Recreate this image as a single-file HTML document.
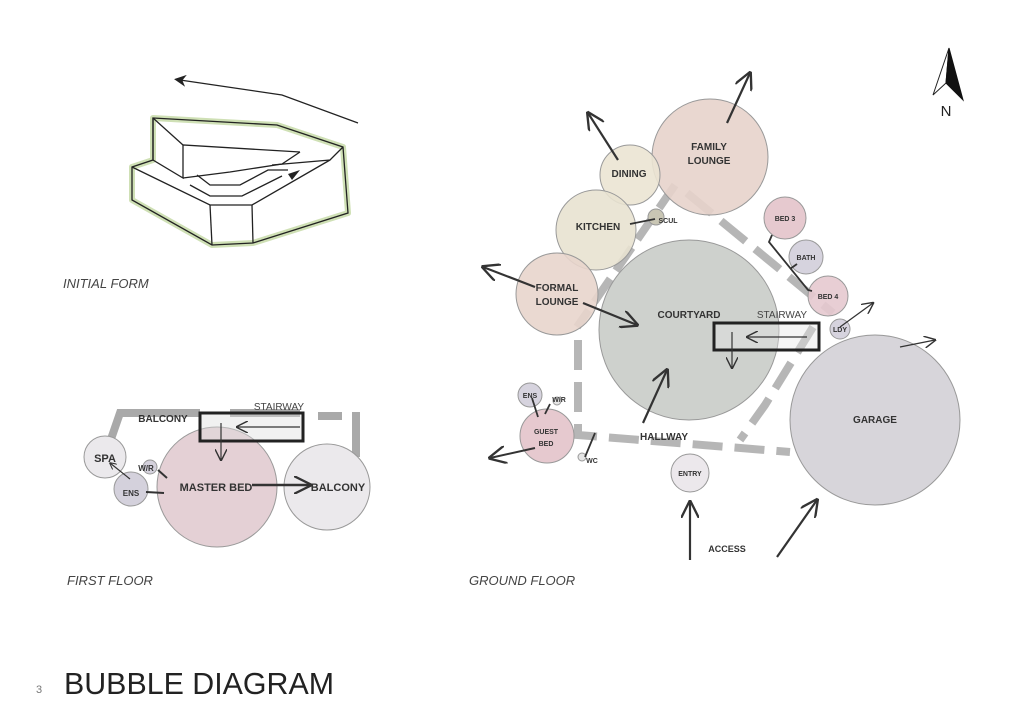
<!DOCTYPE html>
<html><head><meta charset="utf-8"><style>
html,body{margin:0;padding:0;background:#fff}
svg{display:block}
text{font-family:"Liberation Sans",sans-serif}
.b{font-weight:bold;fill:#333;text-anchor:middle}
.it{font-style:italic;fill:#444;font-size:13px}
</style></head><body>
<svg width="1024" height="725" viewBox="0 0 1024 725" xmlns="http://www.w3.org/2000/svg">
<defs>
<marker id="ah" viewBox="0 0 10 10" refX="9" refY="5" markerWidth="7" markerHeight="7" orient="auto-start-reverse" markerUnits="userSpaceOnUse"><path d="M0,0 L10,5 L0,10" fill="none" stroke="#333" stroke-width="1.5"/></marker>
<marker id="ahb" viewBox="0 0 10 10" refX="9" refY="5" markerWidth="18" markerHeight="18" orient="auto" markerUnits="userSpaceOnUse"><path d="M0,0 L10,5 L0,10" fill="none" stroke="#333" stroke-width="1.3"/></marker>
<marker id="ahs" viewBox="0 0 10 10" refX="9" refY="5" markerWidth="12" markerHeight="12" orient="auto" markerUnits="userSpaceOnUse"><path d="M0,0 L10,5 L0,10" fill="none" stroke="#333" stroke-width="1.2"/></marker>
<marker id="tri" viewBox="0 0 10 10" refX="5" refY="5" markerWidth="12" markerHeight="12" orient="auto" markerUnits="userSpaceOnUse"><path d="M0,0 L10,5 L0,10 L3,5z" fill="#222"/></marker>
</defs>

<!-- INITIAL FORM sketch -->
<polyline points="358,123 282,95 180,80" fill="none" stroke="#222" stroke-width="1.2" marker-end="url(#tri)"/>
<polygon points="153,118 277,125 343,147 348,213 253,243 212,245 132,200 132,167 153,160" fill="#fff" stroke="#cfe0b5" stroke-width="6" stroke-linejoin="round"/>
<g fill="none" stroke="#222" stroke-width="1.3">
<polygon points="153,118 277,125 343,147 348,213 253,243 212,245 132,200 132,167 153,160"/>
<polyline points="153,118 153,160 183,178 183,145 300,152"/>
<line x1="153" y1="118" x2="183" y2="145"/>
<polyline points="183,178 230,172 282,164 300,152"/>
<polyline points="343,147 330,160 272,165"/>
<polyline points="132,167 210,205 252,205 330,160"/>
<line x1="210" y1="205" x2="212" y2="245"/>
<line x1="252" y1="205" x2="253" y2="243"/>
<polyline points="197,175 210,185 240,185 268,170 288,170"/>
<polyline points="190,185 210,196 242,196 282,176"/>
</g>
<path d="M288,174 L300,170 L292,180z" fill="#222"/>
<text x="63" y="288" class="it">INITIAL FORM</text>

<!-- FIRST FLOOR -->
<g fill="none" stroke="#a9a9a9" stroke-width="8">
<polyline points="110,442 120,413 200,413"/>
<line x1="230" y1="413" x2="300" y2="413"/>
<line x1="318" y1="416" x2="342" y2="416"/>
<line x1="356" y1="412" x2="356" y2="457"/>
</g>
<circle cx="105" cy="457" r="21" fill="#ebe9ec" stroke="#999" stroke-width="1"/>
<circle cx="217" cy="487" r="60" fill="#e3cdd3" stroke="#999" stroke-width="1" fill-opacity="0.95"/>
<circle cx="327" cy="487" r="43" fill="#ebe9ec" stroke="#999" stroke-width="1"/>
<circle cx="131" cy="489" r="17" fill="#d4d1dc" stroke="#999" stroke-width="1"/>
<circle cx="150" cy="467" r="7" fill="#d4d1dc" stroke="#999" stroke-width="1"/>
<rect x="200" y="413" width="103" height="28" fill="rgba(220,220,220,0.4)" stroke="#222" stroke-width="3"/>
<line x1="300" y1="427" x2="237" y2="427" stroke="#333" stroke-width="1.2" marker-end="url(#ahs)"/>
<line x1="221" y1="423" x2="221" y2="460" stroke="#333" stroke-width="1.2" marker-end="url(#ahs)"/>
<line x1="252" y1="485" x2="310" y2="485" stroke="#333" stroke-width="2.5" marker-end="url(#ahb)"/>
<line x1="130" y1="479" x2="110" y2="463" stroke="#333" stroke-width="1.2" marker-end="url(#ah)"/>
<line x1="158" y1="470" x2="167" y2="478" stroke="#333" stroke-width="2"/>
<line x1="146" y1="492" x2="164" y2="493" stroke="#333" stroke-width="2"/>
<text x="163" y="422" class="b" font-size="10">BALCONY</text>
<text x="279" y="410" font-size="10" fill="#444" text-anchor="middle">STAIRWAY</text>
<text x="105" y="462" class="b" font-size="11">SPA</text>
<text x="146" y="471" class="b" font-size="8">W/R</text>
<text x="131" y="496" class="b" font-size="8">ENS</text>
<text x="216" y="491" class="b" font-size="11">MASTER BED</text>
<text x="338" y="491" class="b" font-size="11">BALCONY</text>
<text x="67" y="585" class="it">FIRST FLOOR</text>

<!-- GROUND FLOOR -->
<g fill="none" stroke="#a9a9a9" stroke-width="8" stroke-opacity="0.85">
<line x1="675" y1="185" x2="577" y2="327" stroke-dasharray="28,10"/>
<polyline points="578,340 578,435 790,452" stroke-dasharray="30,12"/>
<line x1="687" y1="193" x2="833" y2="313" stroke-dasharray="32,12"/>
<polyline points="813,327 765,405 740,440" stroke-dasharray="30,12"/>
</g>
<g stroke="#999" stroke-width="1">
<circle cx="689" cy="330" r="90" fill="#c9ccc8" fill-opacity="0.9"/>
<circle cx="875" cy="420" r="85" fill="#d7d5da"/>
<circle cx="710" cy="157" r="58" fill="#e7d3cb" fill-opacity="0.9"/>
<circle cx="630" cy="175" r="30" fill="#ebe4d3" fill-opacity="0.9"/>
<circle cx="596" cy="230" r="40" fill="#e8e2d0" fill-opacity="0.9"/>
<circle cx="557" cy="294" r="41" fill="#e8d5cc" fill-opacity="0.9"/>
<circle cx="656" cy="217" r="8" fill="#c9c6b4"/>
<circle cx="785" cy="218" r="21" fill="#e6c9cf"/>
<circle cx="806" cy="257" r="17" fill="#d6d3de"/>
<circle cx="828" cy="296" r="20" fill="#e6c9cf" fill-opacity="0.9"/>
<circle cx="840" cy="329" r="10" fill="#d6d3de"/>
<circle cx="530" cy="395" r="12" fill="#d6d3de"/>
<circle cx="557" cy="401" r="4" fill="#e5e5e5"/>
<circle cx="547" cy="436" r="27" fill="#e6c9cf"/>
<circle cx="582" cy="457" r="4" fill="#e5e5e5"/>
<circle cx="690" cy="473" r="19" fill="#ece8ec"/>
</g>
<rect x="714" y="323" width="105" height="27" fill="rgba(230,230,230,0.4)" stroke="#222" stroke-width="3"/>
<g stroke="#333" fill="none">
<line x1="807" y1="337" x2="747" y2="337" stroke-width="1.2" marker-end="url(#ahs)"/>
<line x1="732" y1="332" x2="732" y2="368" stroke-width="1.2" marker-end="url(#ahs)"/>
<line x1="727" y1="123" x2="750" y2="73" stroke-width="2.2" marker-end="url(#ahb)"/>
<line x1="618" y1="160" x2="588" y2="113" stroke-width="2.2" marker-end="url(#ahb)"/>
<line x1="535" y1="287" x2="483" y2="267" stroke-width="2.2" marker-end="url(#ahb)"/>
<line x1="583" y1="303" x2="637" y2="325" stroke-width="2.2" marker-end="url(#ahb)"/>
<line x1="643" y1="423" x2="667" y2="370" stroke-width="2.2" marker-end="url(#ahb)"/>
<line x1="840" y1="327" x2="873" y2="303" stroke-width="1.3" marker-end="url(#ahs)"/>
<line x1="900" y1="347" x2="935" y2="340" stroke-width="1.3" marker-end="url(#ahs)"/>
<line x1="690" y1="560" x2="690" y2="502" stroke-width="2.2" marker-end="url(#ahb)"/>
<line x1="777" y1="557" x2="817" y2="500" stroke-width="2.2" marker-end="url(#ahb)"/>
<line x1="535" y1="448" x2="490" y2="458" stroke-width="2" marker-end="url(#ahb)"/>
<polyline points="772,235 769,242 808,290 812,291" stroke-width="1.8"/>
<line x1="797" y1="264" x2="790" y2="269" stroke-width="1.8"/>
<line x1="630" y1="224" x2="655" y2="219" stroke-width="1.8"/>
<line x1="585" y1="457" x2="595" y2="433" stroke-width="1.8"/>
<line x1="532" y1="398" x2="538" y2="417" stroke-width="1.8"/>
<line x1="550" y1="404" x2="545" y2="414" stroke-width="1.8"/>
</g>
<text x="709" y="150" class="b" font-size="10">FAMILY</text>
<text x="709" y="164" class="b" font-size="10">LOUNGE</text>
<text x="629" y="177" class="b" font-size="10">DINING</text>
<text x="598" y="230" class="b" font-size="10">KITCHEN</text>
<text x="668" y="223" class="b" font-size="7">SCUL</text>
<text x="557" y="291" class="b" font-size="10">FORMAL</text>
<text x="557" y="305" class="b" font-size="10">LOUNGE</text>
<text x="689" y="318" class="b" font-size="10">COURTYARD</text>
<text x="782" y="318" font-size="10" fill="#444" text-anchor="middle">STAIRWAY</text>
<text x="664" y="440" class="b" font-size="10">HALLWAY</text>
<text x="785" y="221" class="b" font-size="7">BED 3</text>
<text x="806" y="260" class="b" font-size="7">BATH</text>
<text x="828" y="299" class="b" font-size="7">BED 4</text>
<text x="840" y="332" class="b" font-size="7" font-weight="normal">LDY</text>
<text x="875" y="423" class="b" font-size="10">GARAGE</text>
<text x="530" y="398" class="b" font-size="7">ENS</text>
<text x="559" y="402" class="b" font-size="7">W/R</text>
<text x="546" y="434" class="b" font-size="7">GUEST</text>
<text x="546" y="446" class="b" font-size="7">BED</text>
<text x="592" y="463" class="b" font-size="7">WC</text>
<text x="690" y="476" class="b" font-size="7">ENTRY</text>
<text x="727" y="552" class="b" font-size="9">ACCESS</text>
<text x="469" y="585" class="it">GROUND FLOOR</text>

<!-- North -->
<path d="M949,48 L933,95 L946,83 Z" fill="#fff" stroke="#222" stroke-width="1"/>
<path d="M949,48 L946,83 L963,100 Z" fill="#111" stroke="#111" stroke-width="1"/>
<text x="946" y="116" font-size="15" fill="#222" text-anchor="middle">N</text>

<text x="36" y="693" font-size="11" fill="#777">3</text>
<text x="64" y="694" font-size="31" fill="#222" textLength="270" lengthAdjust="spacingAndGlyphs">BUBBLE DIAGRAM</text>
</svg>
</body></html>
